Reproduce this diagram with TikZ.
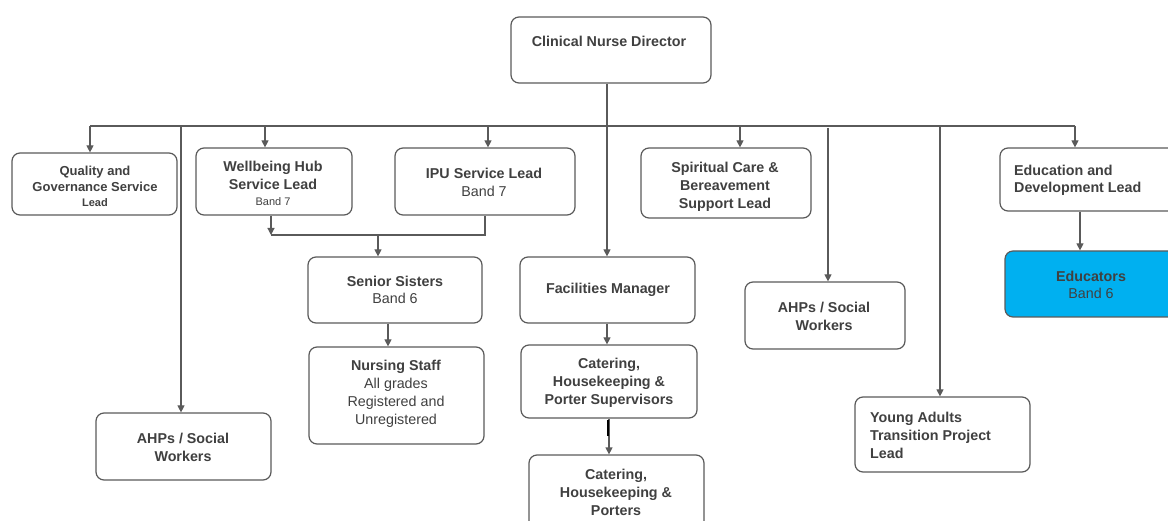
\documentclass[tikz,border=0pt]{standalone}
\usepackage{fontspec}
\setmainfont{Liberation Sans}
\usetikzlibrary{arrows.meta}
\definecolor{linec}{HTML}{5A5A5A}
\definecolor{textc}{HTML}{404040}
\definecolor{cyanfill}{HTML}{00B0F0}
\newcommand{\mfont}{\fontsize{14.3}{18}\selectfont\bfseries}
\begin{document}
\begin{tikzpicture}[x=1pt,y=-1pt,
  box/.style={draw=linec,line width=1.2pt,rounded corners=8pt,inner sep=0pt,fill=white},
  lbl/.style={text=textc,inner sep=0pt,align=center,anchor=north,font=\mfont},
  lbll/.style={text=textc,inner sep=0pt,align=left,anchor=north west,font=\mfont},
  conn/.style={draw=linec,line width=1.2pt},
  arr/.style={conn,-{Triangle[length=7pt,width=7pt]}}]
\useasboundingbox (0,0) rectangle (1168,521);
\clip (0,0) rectangle (1168,521);
% boxes
\node[box,minimum width=200pt,minimum height=66pt] (cnd) at (611,50) {};
\node[box,minimum width=165pt,minimum height=62pt] (qual) at (94.5,184) {};
\node[box,minimum width=156pt,minimum height=67pt] (well) at (274,181.5) {};
\node[box,minimum width=180pt,minimum height=67pt] (ipu) at (485,181.5) {};
\node[box,minimum width=170pt,minimum height=70pt] (spir) at (726,183) {};
\node[box,minimum width=190pt,minimum height=63pt] (edu) at (1095,179.5) {};
\node[box,minimum width=175pt,minimum height=67pt] (ahpa) at (183.5,446.5) {};
\node[box,minimum width=174pt,minimum height=66pt] (sen) at (395,290) {};
\node[box,minimum width=175pt,minimum height=97pt] (nurs) at (396.5,395.5) {};
\node[box,minimum width=175pt,minimum height=66pt] (fac) at (607.5,290) {};
\node[box,minimum width=176pt,minimum height=73pt] (cata) at (609,381.5) {};
\node[box,minimum width=175pt,minimum height=85pt] (catb) at (616.5,497.5) {};
\node[box,minimum width=160pt,minimum height=67pt] (ahpb) at (825,315.5) {};
\node[box,minimum width=175pt,minimum height=75pt] (young) at (942.5,434.5) {};
\node[box,fill=cyanfill,minimum width=185pt,minimum height=66pt] (educ) at (1097.5,284) {};
% texts
\node[lbl] (tcnd) at (609,35.5) {Clinical Nurse Director};
\node[lbl,font=\fontsize{13}{16}\selectfont\bfseries] (tqual) at (95,165.5) {Quality and\\Governance Service\\[-1pt]{\fontsize{11}{13}\selectfont Lead}};
\node[lbl] (twell) at (273,160.5) {Wellbeing Hub\\Service Lead\\[-2pt]{\fontsize{11}{13}\selectfont\mdseries Band 7}};
\node[lbl] (tipu) at (484,167.5) {IPU Service Lead\\{\mdseries Band 7}};
\node[lbl] (tspir) at (725,161.5) {Spiritual Care \&\\Bereavement\\Support Lead};
\node[lbll] (tedu) at (1014,164.5) {Education and\\[-1pt]Development Lead};
\node[lbl] (teduc) at (1091,270.5) {Educators\\[-1pt]{\mdseries Band 6}};
\node[lbl] (tsen) at (395,275.5) {Senior Sisters\\[-1pt]{\mdseries Band 6}};
\node[lbl] (tnurs) at (396,359.5) {Nursing Staff\\{\mdseries All grades}\\{\mdseries Registered and}\\{\mdseries Unregistered}};
\node[lbl] (tfac) at (608,282.5) {Facilities Manager};
\node[lbl] (tcata) at (609,357.5) {Catering,\\Housekeeping \&\\Porter Supervisors};
\node[lbl] (tcatb) at (616,468.5) {Catering,\\Housekeeping \&\\Porters};
\node[lbl] (tahpa) at (183,432.5) {AHPs / Social\\Workers};
\node[lbl] (tahpb) at (824,301.5) {AHPs / Social\\Workers};
\node[lbll] (tyoung) at (870,411.5) {Young Adults\\Transition Project\\Lead};
% bus coordinates
\coordinate (bq) at (90,126);
\coordinate (ba) at (181,126);
\coordinate (bw) at (265,126);
\coordinate (bi) at (488,126);
\coordinate (bf) at (607,126);
\coordinate (bs) at (740,126);
\coordinate (bh) at (828,128);
\coordinate (by) at (940,126);
\coordinate (be) at (1075,126);
% connectors
\draw[conn] (cnd.south -| bf) -- (bf);
\draw[conn] (bq) -- (be);
\draw[arr] (bq) -- (bq |- qual.north);
\draw[arr] (ba) -- (ba |- ahpa.north);
\draw[arr] (bw) -- (bw |- well.north);
\draw[arr] (bi) -- (bi |- ipu.north);
\draw[arr] (bf) -- (bf |- fac.north);
\draw[arr] (bs) -- (bs |- spir.north);
\draw[arr] (bh) -- (bh |- ahpb.north);
\draw[arr] (by) -- (by |- young.north);
\draw[arr] (be) -- (be |- edu.north);
% wellbeing / IPU to senior sisters
\coordinate (jl) at (271,235);
\coordinate (jr) at (485,235);
\coordinate (jm) at (378,235);
\draw[arr] (well.south -| jl) -- (jl);
\draw[conn] (jl) -- (jr) -- (ipu.south -| jr);
\draw[arr] (jm) -- (jm |- sen.north);
\coordinate (sx) at (388,0);
\draw[arr] (sen.south -| sx) -- (nurs.north -| sx);
\coordinate (fx) at (607,0);
\draw[arr] (fac.south -| fx) -- (cata.north -| fx);
\coordinate (cx) at (609,0);
\draw[arr] (cata.south -| cx) -- (catb.north -| cx);
\draw[line width=1.6pt,black] (608,420) -- (608,436);
\coordinate (ex) at (1080,0);
\draw[arr] (edu.south -| ex) -- (educ.north -| ex);
\end{tikzpicture}
\end{document}
